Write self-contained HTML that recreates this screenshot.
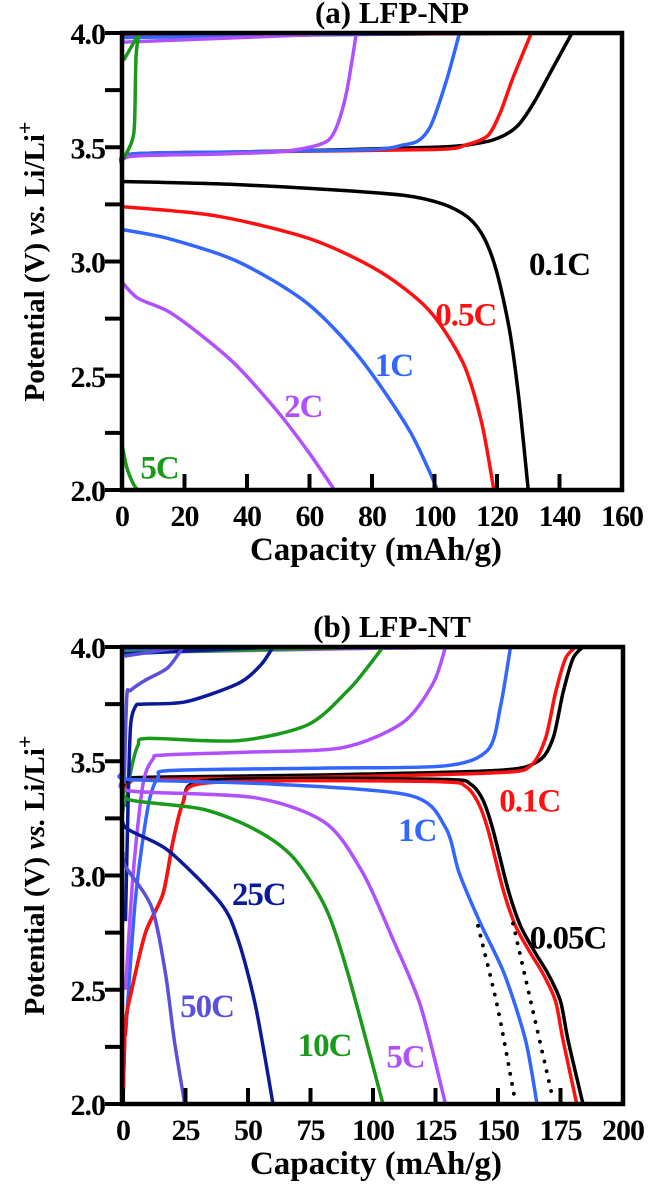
<!DOCTYPE html>
<html><head><meta charset="utf-8"><style>
body{margin:0;background:#fff}
svg{display:block}
text{font-family:"Liberation Serif",serif;font-weight:bold}
</style></head><body>
<svg id="c" width="650" height="1192" viewBox="0 0 650 1192"></svg>
<script>
// ---------- Data: panel (a) LFP-NP ----------
const aXTicks=[0,20,40,60,80,100,120,140,160];
const aYTicks=[2.0,2.5,3.0,3.5,4.0];
const aNames=['0.1C','0.5C','1C','2C','5C'];
const aColors=['#000000','#ff1010','#3366ff','#b050ff','#1a9a1a'];
const aChargeCap=[[0,3,40,100,115,122,127,132,138,144],[0,3,40,100,110,117,121,125,131],[0,3,40,80,90,95,99,104,108],[0,3,30,50,60,66,69,72,75],[0.5,3,4,4.5,5.5]];
const aChargeV=[[3.42,3.47,3.48,3.5,3.52,3.55,3.6,3.7,3.85,4.0],[3.42,3.47,3.48,3.49,3.51,3.55,3.65,3.8,4.0],[3.42,3.47,3.48,3.49,3.51,3.53,3.6,3.8,4.0],[3.42,3.46,3.47,3.48,3.5,3.53,3.6,3.75,4.0],[3.45,3.52,3.6,3.9,4.0]];
const aTopV=[3.99,3.985,3.98,3.96,3.88];
const aDisCap=[[0,30,60,90,103,111,116,120,124,127,130],[0,30,60,82,98,109,115,119],[0,15,37,59,76,92,101],[0,5,15,26,37,50,60,68],[0,1.5,3.5,5]];
const aDisV=[[3.35,3.34,3.32,3.29,3.25,3.19,3.1,2.95,2.7,2.4,2.0],[3.24,3.2,3.1,2.96,2.79,2.56,2.3,2.0],[3.14,3.1,3.0,2.82,2.58,2.26,2.0],[2.91,2.84,2.78,2.67,2.54,2.34,2.16,2.0],[2.2,2.1,2.03,2.0]];
const aLabelPos=[[140,2.94],[110,2.72],[87,2.5],[58,2.32],[12,2.05]];
// ---------- Data: panel (b) LFP-NT ----------
const bXTicks=[0,25,50,75,100,125,150,175,200];
const bYTicks=[2.0,2.5,3.0,3.5,4.0];
const bNames=['0.05C','0.1C','1C','5C','10C','25C','50C'];
const bColors=['#000000','#ff1010','#3366ff','#b050ff','#1a9a1a','#0a1a99','#5a50dd'];
const bChargeCap=[[0,3,10,80,150,166,172,176,180,184],[0,3,10,80,150,163,169,173,177,181],[1,5,10,14,20,80,129,146,151,155],[1,4,8,12,16,50,88,112,124,129],[1,3,6,10,46,74,90,97,104],[1,2,3,5,8,25,46,55,60],[0.5,1.5,3,9,18,24]];
const bChargeV=[[3.38,3.42,3.43,3.44,3.46,3.5,3.6,3.8,3.95,4.0],[3.36,3.41,3.42,3.43,3.45,3.48,3.6,3.8,3.95,4.0],[2.3,2.9,3.3,3.43,3.46,3.47,3.48,3.55,3.74,4.0],[2.5,3.0,3.4,3.51,3.527,3.54,3.56,3.67,3.84,4.0],[3.3,3.45,3.57,3.6,3.59,3.66,3.81,3.9,4.0],[2.8,3.3,3.65,3.74,3.75,3.76,3.84,3.92,4.0],[3.4,3.78,3.81,3.855,3.91,4.0]];
const bTopV=[3.995,3.99,3.985,3.975,3.975,3.97,3.96];
const bDisCap=[[0,1,3.5,9,16,20,24,30,70,130,139,144,148,154,159,165,170,175,178,184],[0,1,3.5,9,16,20,24,30,70,128,137,142,146,152,157,163,168,173,176,181.5],[0,3,60,115,129,134.5,143,152.5,161,165.6],[0,3,53,81,96,108,119,129],[0,3,32,53,68,81,90,104],[0,1,18,39,46,53,60],[0,1,11.5,17,20.5,24.7]];
const bDisV=[[2.0,2.35,2.5,2.75,2.92,3.15,3.32,3.41,3.425,3.42,3.4,3.33,3.2,2.94,2.78,2.66,2.57,2.45,2.28,2.0],[2.0,2.35,2.5,2.75,2.92,3.15,3.32,3.4,3.415,3.41,3.39,3.32,3.2,2.94,2.78,2.66,2.57,2.45,2.28,2.0],[3.45,3.42,3.4,3.35,3.21,3.01,2.79,2.57,2.28,2.0],[3.42,3.37,3.34,3.23,3.01,2.72,2.43,2.0],[3.38,3.33,3.29,3.2,3.08,2.86,2.57,2.0],[3.3,3.21,3.11,2.88,2.72,2.43,2.0],[3.1,3.04,2.86,2.57,2.28,2.0]];
const bDotCap=[[142,149.7,156.6],[156,163.5,172]];
const bDotV=[[2.78,2.43,2.03],[2.79,2.43,2.02]];
const bLabelPos=[[178,2.68],[162.7,3.28],[117.7,3.15],[113,2.16],[80.6,2.21],[54.3,2.87],[33.6,2.38]];

const svg=document.getElementById('c');
const NS='http://www.w3.org/2000/svg';
function mk(tag,attrs,parent){const e=document.createElementNS(NS,tag);for(const k in attrs)e.setAttribute(k,attrs[k]);(parent||svg).appendChild(e);return e;}
function smooth(pts){let d='M'+pts[0][0]+','+pts[0][1];for(let i=0;i<pts.length-1;i++){const p0=pts[Math.max(i-1,0)],p1=pts[i],p2=pts[i+1],p3=pts[Math.min(i+2,pts.length-1)];const t=0.14;d+=' C'+(p1[0]+(p2[0]-p0[0])*t)+','+(p1[1]+(p2[1]-p0[1])*t)+' '+(p2[0]-(p3[0]-p1[0])*t)+','+(p2[1]-(p3[1]-p1[1])*t)+' '+p2[0]+','+p2[1];}return d;}

function panel(o){
  const X=v=>o.x0+(v-o.xmin)/(o.xmax-o.xmin)*(o.x1-o.x0);
  const Y=v=>o.y1-(v-2)/(2)*(o.y1-o.y0);
  const g=mk('g',{});
  
  
  o.chargeCap.forEach((cap,i)=>{
    const pts=cap.map((c,j)=>[X(c),Y(o.chargeV[i][j])]);
    const p=mk('path',{d:smooth(pts)+' L'+X(0.5)+','+Y(o.topV[i]),fill:'none',stroke:o.colors[i],'stroke-width':3.5,'stroke-linejoin':'round'},g);
    
    
  });
  o.disCap.forEach((cap,i)=>{
    const pts=cap.map((c,j)=>[X(c),Y(o.disV[i][j])]);
    const p=mk('path',{d:smooth(pts),fill:'none',stroke:o.colors[i],'stroke-width':3.5,'stroke-linejoin':'round'},g);
    
    
  });
  if(o.dotCap)o.dotCap.forEach((cap,i)=>{
    const pts=cap.map((c,j)=>[X(c),Y(o.dotV[i][j])]);
    const p=mk('path',{d:smooth(pts),fill:'none',stroke:'#000','stroke-width':3.8,'stroke-dasharray':'0.1 10','stroke-linecap':'round'},g);
    
    
  });
  o.labelPos.forEach((lp,i)=>{
    const t=mk('text',{x:X(lp[0]),y:Y(lp[1]),fill:o.colors[i],'font-size':33,'text-anchor':'middle','letter-spacing':'-1'},g);
    t.textContent=o.names[i];
    
    
  });
  const fr=mk('rect',{x:o.x0,y:o.y0,width:o.x1-o.x0,height:o.y1-o.y0,fill:'none',stroke:'#000','stroke-width':4.5},g);
  
  
  o.xTicks.forEach(v=>{
    const l=mk('line',{x1:X(v),x2:X(v),y1:o.y1,y2:o.y1-16,stroke:'#000','stroke-width':4},g);
    
    
    const t=mk('text',{x:X(v),y:o.y1+36,'text-anchor':'middle','font-size':30,'letter-spacing':'-1'},g);
    t.textContent=v;
    
    
  });
  for(let v=2;v<=4.001;v+=0.25){
    const l=mk('line',{x1:o.x0,x2:o.x0-17,y1:Y(v),y2:Y(v),stroke:'#000','stroke-width':4},g);
    
    
  }
  o.yTicks.forEach(v=>{
    const t=mk('text',{x:o.x0-17,y:Y(v)+11,'text-anchor':'end','font-size':30,'letter-spacing':'-1'},g);
    t.textContent=v.toFixed(1);
    
    
  });
  const xt=mk('text',{x:376,y:o.y1+70,'text-anchor':'middle','font-size':33},g);
  xt.textContent='Capacity (mAh/g)';
  
  
  const yt=mk('text',{x:0,y:0,'text-anchor':'middle','font-size':29,transform:'translate(44,'+((o.y0+o.y1)/2)+') rotate(-90)'},g);
  yt.innerHTML='Potential (V) <tspan font-style="italic">vs.</tspan> Li/Li<tspan dy="-12" font-size="22">+</tspan>';
  
  
  const tt=mk('text',{x:392,y:o.y0-10,'text-anchor':'middle','font-size':31},g);
  tt.textContent=o.title;
  
  
}
panel({name:'panel-a',title:'(a) LFP-NP',x0:122,x1:622,xmin:0,xmax:160,y0:33,y1:490,xTicks:aXTicks,yTicks:aYTicks,names:aNames,colors:aColors,chargeCap:aChargeCap,chargeV:aChargeV,topV:aTopV,disCap:aDisCap,disV:aDisV,labelPos:aLabelPos});
panel({name:'panel-b',title:'(b) LFP-NT',x0:122,x1:623,xmin:-0.4,xmax:200,y0:647,y1:1104,xTicks:bXTicks,yTicks:bYTicks,names:bNames,colors:bColors,chargeCap:bChargeCap,chargeV:bChargeV,topV:bTopV,disCap:bDisCap,disV:bDisV,labelPos:bLabelPos,dotCap:bDotCap,dotV:bDotV});
</script>
</body></html>
